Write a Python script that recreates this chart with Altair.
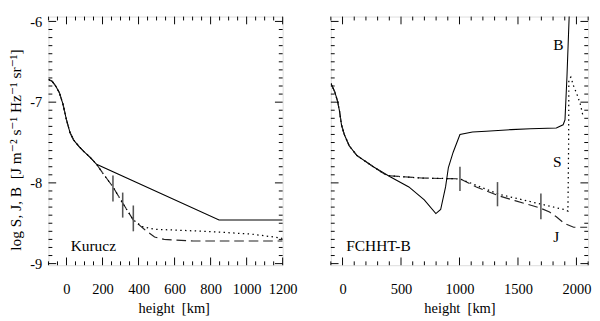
import altair as alt
import pandas as pd

# ---------------- data ----------------
# Kurucz model: part shared by B, J and S
kur_common_h = [-100, -80, -60, -40, -20, 0, 20, 40, 70, 100, 130, 167]
kur_common_v = [-6.72, -6.74, -6.80, -6.88, -7.02, -7.22, -7.38, -7.47, -7.55, -7.62, -7.68, -7.77]
kur_B_h = [847, 1200]
kur_B_v = [-8.46, -8.46]
kur_J_h = [205, 258, 312, 371, 435, 489, 542, 703, 1200]
kur_J_v = [-7.89, -8.05, -8.25, -8.46, -8.58, -8.67, -8.70, -8.72, -8.72]
kur_S_h = [205, 258, 312, 371, 419, 489, 665, 847, 1024, 1184, 1200]
kur_S_v = [-7.89, -8.05, -8.25, -8.46, -8.54, -8.575, -8.59, -8.61, -8.634, -8.68, -8.69]
kur_bar_h = [258, 312, 371]
kur_bar_lo = [-8.23, -8.43, -8.60]
kur_bar_hi = [-7.91, -8.12, -8.28]

# FCHHT-B model
fch_common_h = [-100, -92, -67, -42, -26, -9, 15, 57, 122, 263]
fch_common_v = [-6.77, -6.79, -6.87, -6.99, -7.11, -7.28, -7.40, -7.54, -7.66, -7.80]
fch_B_h = [403, 567, 699, 798, 839, 881, 905, 946, 1004, 1111, 1227, 1441, 1606, 1828, 1886, 1902, 1919, 1939]
fch_B_v = [-7.92, -8.05, -8.21, -8.38, -8.33, -8.05, -7.81, -7.62, -7.40, -7.37, -7.36, -7.34, -7.33,
           -7.32, -7.28, -7.22, -6.68, -5.89]
fch_J_h = [380, 675, 1004, 1144, 1334, 1474, 1688, 1770, 1828, 1894, 1976, 2092]
fch_J_v = [-7.91, -7.94, -7.95, -8.05, -8.16, -8.22, -8.31, -8.36, -8.42, -8.50, -8.55, -8.55]
fch_S_h = [380, 675, 1004, 1144, 1334, 1688, 1894, 1927, 1933, 1935, 1952, 1976, 2009, 2034, 2059]
fch_S_v = [-7.91, -7.94, -7.95, -8.03, -8.14, -8.26, -8.33, -8.35, -7.54, -6.72, -6.69, -6.80, -6.92,
           -7.03, -7.19]
fch_bar_h = [1004, 1325, 1696]
fch_bar_lo = [-8.10, -8.29, -8.45]
fch_bar_hi = [-7.80, -7.99, -8.13]

# annotations
kur_text = ["Kurucz"]
kur_text_h = [23]
kur_text_v = [-8.79]
fch_text = ["FCHHT-B", "B", "S", "J"]
fch_text_h = [32, 1845, 1836, 1828]
fch_text_v = [-8.79, -6.30, -7.74, -8.67]

# axes
y_major = [-9, -8, -7, -6]
y_minor = [round(-9 + 0.1 * i, 1) for i in range(31)]
kur_x_major = [0, 200, 400, 600, 800, 1000, 1200]
kur_x_minor = list(range(-100, 1201, 50))
fch_x_major = [0, 500, 1000, 1500, 2000]
fch_x_minor = list(range(-100, 2101, 100))

# ---------------- chart ----------------
FONT = "Liberation Serif, DejaVu Serif, serif"
H = 258
YDOM = [-9.02, -5.94]
MAJ, MIN = 8, 4


def curve(h, v):
    return pd.DataFrame({"h": h, "v": v, "i": list(range(len(h)))})


def panel(width, xdom, xmaj, xmin, common, B, J, S, bars, texts, show_y, title_x):
    xs = alt.Scale(domain=xdom, nice=False, zero=False)
    ys = alt.Scale(domain=YDOM, nice=False, zero=False)
    xaxis = alt.Axis(values=xmaj, ticks=False, domain=False, grid=False, labelPadding=17,
                     labelOverlap=False, labelFlush=False, labelBound=False,
                     labelExpr="'' + datum.value", labelFont=FONT, labelFontSize=15, labelColor="black",
                     title="height\u00a0 [km]", titleFont=FONT, titleFontSize=15, titleFontWeight="normal",
                     titleColor="black", titlePadding=5, titleX=title_x)
    if show_y:
        yaxis = alt.Axis(values=y_major, ticks=False, domain=False, grid=False, labelPadding=7,
                         labelOverlap=False, labelFlush=False, labelBound=False,
                         labelExpr="'' + datum.value", labelFont=FONT, labelFontSize=15, labelColor="black",
                         title="log S, J, B\u00a0 [J m\u207b\u00b2 s\u207b\u00b9 Hz\u207b\u00b9 sr\u207b\u00b9]",
                         titleFont=FONT, titleFontSize=16, titleFontWeight="normal", titleColor="black",
                         titlePadding=6, titleY=138)
    else:
        yaxis = None

    X = lambda f="h": alt.X(f"{f}:Q", scale=xs, axis=xaxis)
    Y = lambda f="v": alt.Y(f"{f}:Q", scale=ys, axis=yaxis)

    ch, cv = common
    bh, bv = B
    jh, jv = J
    sh, sv = S
    dB = curve(ch + bh, cv + bv)
    dJ = curve(ch + jh, cv + jv)
    dS = curve(ch + sh, cv + sv)

    lB = alt.Chart(dB).mark_line(color="black", strokeWidth=1.1, clip=True).encode(
        x=X(), y=Y(), order="i:Q")
    lJ = alt.Chart(dJ).mark_line(color="#222", strokeWidth=1.2, strokeDash=[10, 5], clip=True).encode(
        x=X(), y=Y(), order="i:Q")
    lS = alt.Chart(dS).mark_line(color="black", strokeWidth=1.3, strokeDash=[1.5, 3.5], clip=True).encode(
        x=X(), y=Y(), order="i:Q")

    bh_, blo, bhi = bars
    dbar = pd.DataFrame({"h": bh_, "v": blo, "hi": bhi})
    lbar = alt.Chart(dbar).mark_rule(color="#555", strokeWidth=1.6).encode(
        x=X(), y=Y(), y2="hi:Q")

    tt, th, tv = texts
    dtext = pd.DataFrame({"t": tt, "h": th, "v": tv})
    ltext_l = alt.Chart(dtext.iloc[:1]).mark_text(font=FONT, fontSize=16, align="left", baseline="middle",
                                                   color="black").encode(x=X(), y=Y(), text="t:N")
    layers = [lB, lJ, lS, lbar, ltext_l]
    if len(tt) > 1:
        ltext_c = alt.Chart(dtext.iloc[1:]).mark_text(font=FONT, fontSize=16, align="center",
                                                       baseline="middle", color="black").encode(
            x=X(), y=Y(), text="t:N")
        layers.append(ltext_c)

    # frame ticks, pointing inward, on all four sides
    dxmaj = pd.DataFrame({"h": xmaj})
    dxmin = pd.DataFrame({"h": [x for x in xmin if x not in xmaj]})
    dymaj = pd.DataFrame({"v": y_major})
    dymin = pd.DataFrame({"v": [y for y in y_minor if y not in y_major]})
    for d, L in ((dxmaj, MAJ), (dxmin, MIN)):
        layers.append(alt.Chart(d).mark_rule(color="black", strokeWidth=1).encode(
            x=X(), y=alt.value(H), y2=alt.value(H - L)))
        layers.append(alt.Chart(d).mark_rule(color="black", strokeWidth=1).encode(
            x=X(), y=alt.value(0), y2=alt.value(L)))
    for d, L in ((dymaj, MAJ), (dymin, MIN)):
        layers.append(alt.Chart(d).mark_rule(color="black", strokeWidth=1).encode(
            y=Y(), x=alt.value(0), x2=alt.value(L)))
        layers.append(alt.Chart(d).mark_rule(color="black", strokeWidth=1).encode(
            y=Y(), x=alt.value(width), x2=alt.value(width - L)))

    return alt.layer(*layers).properties(width=width, height=H)


left = panel(243, [-100, 1200], kur_x_major, kur_x_minor,
             (kur_common_h, kur_common_v), (kur_B_h, kur_B_v), (kur_J_h, kur_J_v), (kur_S_h, kur_S_v),
             (kur_bar_h, kur_bar_lo, kur_bar_hi), (kur_text, kur_text_h, kur_text_v), True, 130)
right = panel(267, [-100, 2100], fch_x_major, fch_x_minor,
              (fch_common_h, fch_common_v), (fch_B_h, fch_B_v), (fch_J_h, fch_J_v), (fch_S_h, fch_S_v),
              (fch_bar_h, fch_bar_lo, fch_bar_hi), (fch_text, fch_text_h, fch_text_v), False, 133.5)

chart = alt.hconcat(left, right, spacing=33).properties(padding=0).configure_view(
    stroke="black", strokeWidth=1.2).configure(background="white")

chart.save("out.html", embed_options={"renderer": "svg", "actions": False})
